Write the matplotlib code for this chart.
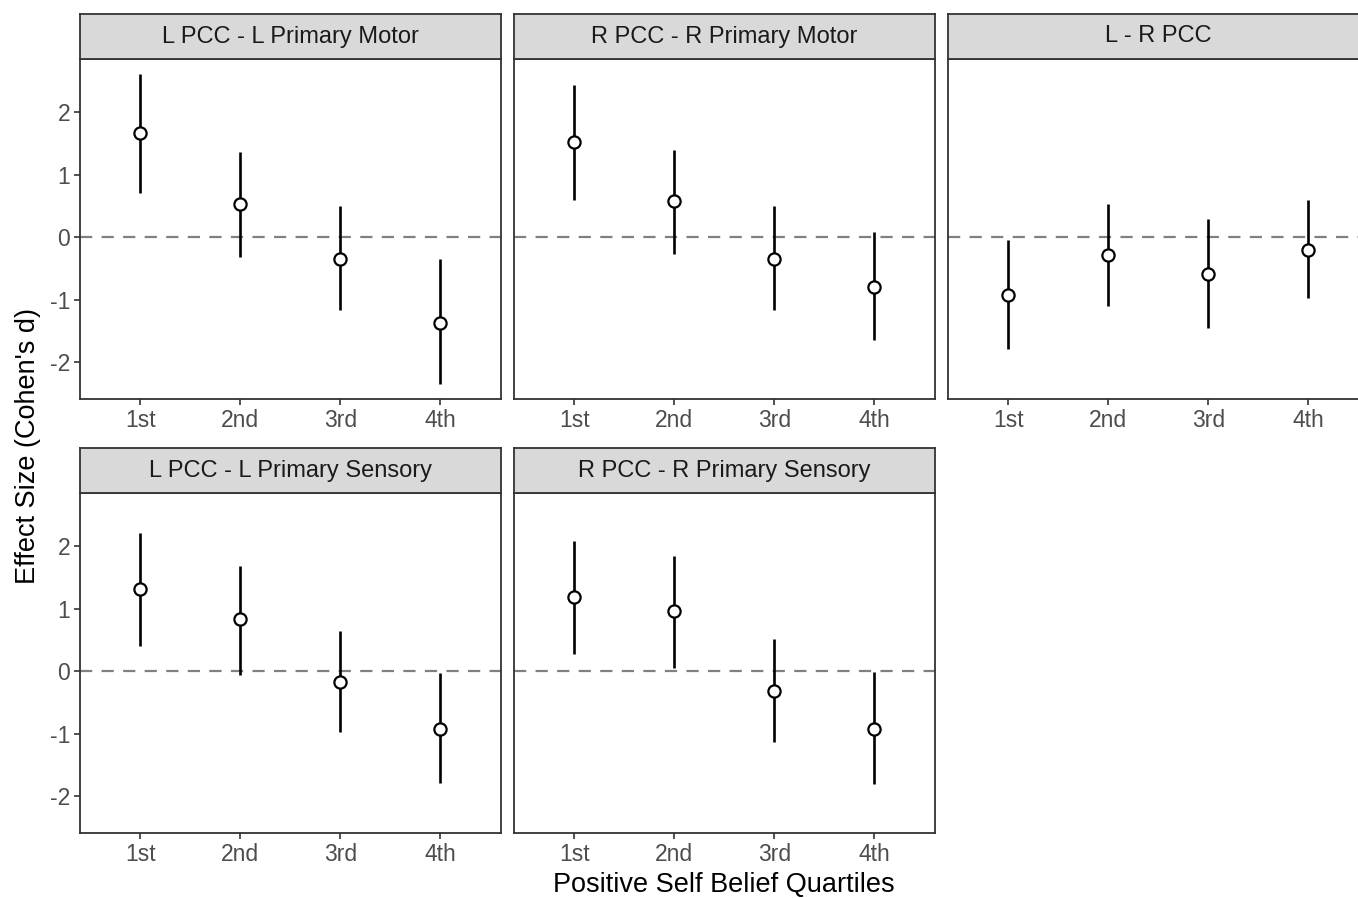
import numpy as np
import matplotlib
matplotlib.use("Agg")
import matplotlib.pyplot as plt

plt.rcParams['font.family'] = ['Liberation Sans', 'DejaVu Sans']
plt.rcParams['axes.unicode_minus'] = False

quartiles = ["1st", "2nd", "3rd", "4th"]
panel_titles = ["L PCC - L Primary Motor", "R PCC - R Primary Motor", "L - R PCC",
                "L PCC - L Primary Sensory", "R PCC - R Primary Sensory"]

# effect size estimate, lower and upper bound per panel
est_lm = [1.67, 0.53, -0.35, -1.38]
lo_lm = [0.71, -0.31, -1.16, -2.35]
hi_lm = [2.61, 1.36, 0.50, -0.35]

est_rm = [1.53, 0.58, -0.35, -0.80]
lo_rm = [0.59, -0.27, -1.16, -1.64]
hi_rm = [2.44, 1.40, 0.50, 0.08]

est_lr = [-0.92, -0.29, -0.59, -0.20]
lo_lr = [-1.79, -1.10, -1.45, -0.98]
hi_lr = [-0.04, 0.53, 0.29, 0.59]

est_ls = [1.31, 0.83, -0.17, -0.93]
lo_ls = [0.40, -0.06, -0.97, -1.79]
hi_ls = [2.21, 1.69, 0.65, -0.03]

est_rs = [1.19, 0.97, -0.32, -0.93]
lo_rs = [0.28, 0.05, -1.14, -1.81]
hi_rs = [2.08, 1.85, 0.52, -0.02]

panels = [(est_lm, lo_lm, hi_lm), (est_rm, lo_rm, hi_rm), (est_lr, lo_lr, hi_lr),
          (est_ls, lo_ls, hi_ls), (est_rs, lo_rs, hi_rs)]

W, H = 1358, 898
fig = plt.figure(figsize=(W / 100, H / 100), dpi=100)

frame = "#333333"
# pixel layout: (left, top) of plot area
lefts = [80, 514, 948, 80, 514]
tops = [59, 59, 59, 493, 493]
pw, ph = 420.5, 340
sh = 45

x = np.arange(1, 5)
for i, (est, lo, hi) in enumerate(panels):
    l, t = lefts[i], tops[i]
    ax = fig.add_axes([l / W, 1 - (t + ph) / H, pw / W, ph / H])
    ax.axhline(0, color="#808080", lw=1.6, dashes=(5.5, 4.2), zorder=1)
    ax.vlines(x, lo, hi, color="black", lw=1.9, zorder=2)
    ax.plot(x, est, "o", ms=8.8, mfc="white", mec="black", mew=1.6, zorder=3)
    ax.set_xlim(0.4, 4.6)
    ax.set_ylim(-2.59, 2.85)
    ax.set_xticks(x)
    ax.set_xticklabels(quartiles)
    ax.set_yticks([-2, -1, 0, 1, 2])
    ax.tick_params(colors=frame, labelcolor="#4D4D4D", labelsize=16.5,
                   length=4, width=1.2, pad=3)
    if i not in (0, 3):
        ax.tick_params(axis="y", left=False, labelleft=False)
    for s in ax.spines.values():
        s.set_color(frame)
        s.set_linewidth(1.3)

    sax = fig.add_axes([l / W, 1 - t / H, pw / W, sh / H])
    sax.set_facecolor("#D9D9D9")
    sax.set_xticks([])
    sax.set_yticks([])
    for s in sax.spines.values():
        s.set_color(frame)
        s.set_linewidth(1.3)
    sax.text(0.5, 0.5, panel_titles[i], ha="center", va="center",
             fontsize=17, color="#1A1A1A", transform=sax.transAxes)

fig.text(724 / W, 1 - 885 / H, "Positive Self Belief Quartiles", ha="center",
         va="center", fontsize=19.5)
fig.text(28 / W, 1 - 446 / H, "Effect Size (Cohen's d)", ha="center",
         va="center", rotation=90, fontsize=19.5)

fig.savefig("out.png", dpi=100)
